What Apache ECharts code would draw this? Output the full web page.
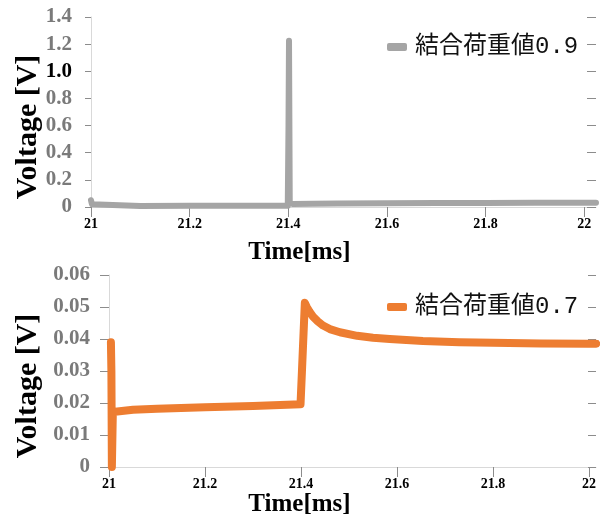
<!DOCTYPE html>
<html>
<head>
<meta charset="utf-8">
<script src="https://cdn.jsdelivr.net/npm/echarts@6/dist/echarts.min.js"></script>
<style>
  html, body { margin: 0; padding: 0; background: #fff; }
  #chart { width: 603px; height: 524px; }
</style>
</head>
<body>
<div id="chart"></div>
<script>
// 時間軸の目盛り
var timeTicks = [21, 21.2, 21.4, 21.6, 21.8, 22];

// 結合荷重値0.9 の波形
var topTime = [21.0, 21.002, 21.005, 21.1, 21.2, 21.3, 21.399, 21.4005, 21.4015, 21.403, 21.41, 21.45, 21.5, 21.6, 21.7, 21.8, 21.9, 22.0, 22.024];
var topVolt = [0.05, 0.02, 0.008, 0.008, 0.009, 0.009, 0.01, 0.6, 1.225, 0.03, 0.022, 0.024, 0.026, 0.028, 0.029, 0.03, 0.031, 0.031, 0.031];

// 結合荷重値0.7 の波形
var botTime = [21.004, 21.005, 21.006, 21.008, 21.012, 21.05, 21.1, 21.2, 21.3, 21.399, 21.402, 21.408, 21.412, 21.418, 21.425, 21.435, 21.446, 21.46, 21.481, 21.517, 21.55, 21.585, 21.654, 21.73, 21.8, 21.9, 22.0, 22.015];
var botVolt = [0.039, 0.03, 0.0, 0.0172, 0.0176, 0.0179, 0.0182, 0.0187, 0.0191, 0.0196, 0.03, 0.0513, 0.05, 0.0485, 0.047, 0.0455, 0.0442, 0.0431, 0.0421, 0.041, 0.0404, 0.04, 0.0394, 0.039, 0.0388, 0.0386, 0.0385, 0.0385];

function pairs(xs, ys) {
  var out = [];
  for (var i = 0; i < xs.length; i++) out.push([xs[i], ys[i]]);
  return out;
}

var serifFont = '"Liberation Serif", "DejaVu Serif", serif';
var legendFont = '"Liberation Mono", "Noto Sans CJK JP", sans-serif';
var axisGray = '#d9d9d9';
var tickGray = '#8c8c8c';
var labelGray = '#7a7a7a';

var myChart = echarts.init(document.getElementById('chart'));

function xMain(grid, max, gap, shift) {
  return {
    type: 'value', gridIndex: grid, min: 21, max: max,
    name: 'Time[ms]', nameLocation: 'middle', nameGap: gap,
    nameTextStyle: { fontFamily: serifFont, fontWeight: 'bold', fontSize: 25, color: '#000', padding: [0, shift * 2, 0, 0] },
    axisLine: { show: true, lineStyle: { color: axisGray, width: 1 } },
    axisTick: { show: true, length: 3, customValues: timeTicks, lineStyle: { color: tickGray } },
    axisLabel: {
      customValues: timeTicks, margin: 10,
      fontFamily: serifFont, fontWeight: 'bold', fontSize: 14, color: '#000',
      formatter: function (v) { return String(+v.toFixed(1)); }
    },
    splitLine: { show: false }
  };
}

function xInner(grid, max) {
  return {
    type: 'value', gridIndex: grid, min: 21, max: max,
    axisLine: { show: false },
    axisTick: { show: true, inside: true, length: 10, customValues: timeTicks, lineStyle: { color: tickGray } },
    axisLabel: { show: false },
    splitLine: { show: false }
  };
}

function yMain(grid, max, step, digits, gap, outLen) {
  return {
    type: 'value', gridIndex: grid, min: 0, max: max, interval: step,
    name: 'Voltage [V]', nameLocation: 'middle', nameGap: gap, nameMoveOverlap: false,
    nameTextStyle: { fontFamily: serifFont, fontWeight: 'bold', fontSize: 30, color: '#000', padding: [0, 30, 0, 0] },
    axisLine: { show: true, lineStyle: { color: axisGray, width: 1 } },
    axisTick: { show: true, length: outLen, lineStyle: { color: tickGray } },
    axisLabel: {
      margin: 19, fontFamily: serifFont, fontWeight: 'bold', fontSize: 21, color: labelGray,
      formatter: function (v) {
        if (v === 0) return '0';
        var s = v.toFixed(digits);
        return s === '1.0' ? '{k|1.0}' : s;
      },
      rich: { k: { fontFamily: serifFont, fontWeight: 'bold', fontSize: 21, color: '#000' } }
    },
    splitLine: { show: false }
  };
}

function yInner(grid, max, step, inLen) {
  return {
    type: 'value', gridIndex: grid, min: 0, max: max, interval: step,
    axisLine: { show: false },
    axisTick: { show: true, inside: true, length: inLen, lineStyle: { color: tickGray } },
    axisLabel: { show: false },
    splitLine: { show: false }
  };
}

var option = {
  backgroundColor: '#fff',
  animation: false,
  grid: [
    { left: 91, top: 17, width: 505, height: 190, outerBoundsMode: 'none' },
    { left: 109, top: 275, width: 487, height: 192, outerBoundsMode: 'none' }
  ],
  legend: [
    {
      data: ['結合荷重値0.9'], left: 382, top: 30,
      icon: 'roundRect', itemWidth: 20, itemHeight: 8,
      textStyle: { fontFamily: legendFont, fontSize: 24, color: '#111', padding: [0, 0, 0, 3] }
    },
    {
      data: ['結合荷重値0.7'], left: 382, top: 290,
      icon: 'roundRect', itemWidth: 20, itemHeight: 8,
      textStyle: { fontFamily: legendFont, fontSize: 24, color: '#111', padding: [0, 0, 0, 3] }
    }
  ],
  xAxis: [
    xMain(0, 22.024, 33, 44),
    xMain(1, 22.0146, 16, 53),
    xInner(0, 22.024),
    xInner(1, 22.0146)
  ],
  yAxis: [
    yMain(0, 1.4, 0.2, 1, 48, 6),
    yMain(1, 0.06, 0.01, 2, 66, 9),
    yInner(0, 1.4, 0.2, 9),
    yInner(1, 0.06, 0.01, 8)
  ],
  series: [
    {
      name: '結合荷重値0.9', type: 'line', xAxisIndex: 0, yAxisIndex: 0,
      data: pairs(topTime, topVolt), showSymbol: false, symbol: 'none',
      color: '#a5a5a5',
      lineStyle: { color: '#a5a5a5', width: 6, cap: 'round', join: 'round' }
    },
    {
      name: '結合荷重値0.7', type: 'line', xAxisIndex: 1, yAxisIndex: 1,
      data: pairs(botTime, botVolt), showSymbol: false, symbol: 'none',
      color: '#ed7d31',
      lineStyle: { color: '#ed7d31', width: 8, cap: 'round', join: 'round' }
    }
  ]
};

myChart.setOption(option);
</script>
</body>
</html>
